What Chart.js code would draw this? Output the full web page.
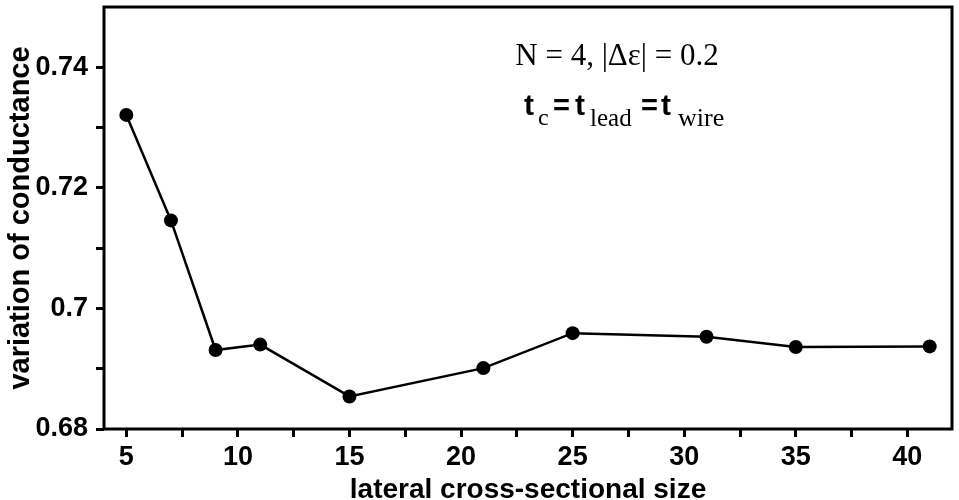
<!DOCTYPE html>
<html lang="en">
<head>
    <meta charset="UTF-8" />
    <title>variation of conductance</title>
    <script src="https://cdn.jsdelivr.net/npm/chart.js"></script>
    <style>
        body {
            margin: 0;
            background: white;
        }
        .wrap {
            width: 959px;
            height: 500px;
        }
    </style>
</head>
<body>
<div class="wrap">
    <canvas id="condChart"></canvas>
</div>
<script>
    // data
    const sizes = [5, 7, 9, 11, 15, 21, 25, 31, 35, 41];
    const conductance = [0.7321, 0.7146, 0.6931, 0.6940, 0.6854, 0.6901, 0.6959, 0.6953, 0.6936, 0.6937];

    const xTickValues = [5, 7.5, 10, 12.5, 15, 17.5, 20, 22.5, 25, 27.5, 30, 32.5, 35, 37.5, 40];
    const xTickLabels = ['5', '', '10', '', '15', '', '20', '', '25', '', '30', '', '35', '', '40'];
    const yTickValues = [0.68, 0.69, 0.70, 0.71, 0.72, 0.73, 0.74];
    const yTickLabels = ['0.68', '', '0.7', '', '0.72', '', '0.74'];

    const sans = "'Liberation Sans', Arial, sans-serif";
    const serif = "'Liberation Serif', 'Times New Roman', serif";

    // frame round the plot + the annotation text
    const framePlugin = {
        id: 'frame',
        afterDraw(chart) {
            const {ctx, chartArea: a} = chart;
            ctx.save();
            ctx.strokeStyle = '#000';
            ctx.lineWidth = 3;
            ctx.strokeRect(a.left, a.top, a.right - a.left, a.bottom - a.top);

            ctx.fillStyle = '#000';
            ctx.textAlign = 'center';
            ctx.textBaseline = 'alphabetic';
            ctx.font = '31px ' + serif;
            ctx.fillText('N = 4, |\u0394\u03b5| = 0.2', 617, 65);

            ctx.textAlign = 'left';
            const parts = [
                ['t', 524, 115, 'bold 30px ' + sans],
                ['c', 538, 125, '24px ' + serif],
                ['=', 553, 115, 'bold 29px ' + sans],
                ['t', 575, 115, 'bold 30px ' + sans],
                ['lead', 590, 126, '25px ' + serif],
                ['=', 641, 115, 'bold 29px ' + sans],
                ['t', 661, 115, 'bold 30px ' + sans],
                ['wire', 678, 126, '26px ' + serif]
            ];
            parts.forEach(([txt, x, y, font]) => {
                ctx.font = font;
                ctx.fillText(txt, x, y);
            });
            ctx.restore();
        }
    };

    const ctx = document.getElementById('condChart').getContext('2d');
    new Chart(ctx, {
        type: 'scatter',
        data: {
            datasets: [{
                data: sizes.map((s, i) => ({x: s, y: conductance[i]})),
                showLine: true,
                borderColor: '#000',
                borderWidth: 2.5,
                backgroundColor: '#000',
                pointRadius: 7,
                pointHoverRadius: 7,
                pointBorderWidth: 0
            }]
        },
        options: {
            responsive: true,
            maintainAspectRatio: false,
            animation: false,
            layout: {
                padding: {top: 2.5, right: 5, left: 0, bottom: 0}
            },
            plugins: {
                legend: {display: false},
                tooltip: {enabled: false}
            },
            scales: {
                x: {
                    type: 'linear',
                    min: 4,
                    max: 42,
                    afterBuildTicks(scale) {
                        scale.ticks = xTickValues.map(v => ({value: v}));
                    },
                    afterFit(scale) {
                        scale.height = 71;
                        scale.paddingLeft = 0;
                        scale.paddingRight = 0;
                    },
                    border: {display: false},
                    grid: {
                        drawOnChartArea: false,
                        drawTicks: true,
                        tickLength: 8,
                        tickWidth: 3,
                        tickColor: '#000'
                    },
                    ticks: {
                        autoSkip: false,
                        maxRotation: 0,
                        padding: 6,
                        color: '#000',
                        font: {family: sans, size: 27, weight: 'bold', lineHeight: 1.1},
                        callback: (v, i) => xTickLabels[i]
                    },
                    title: {
                        display: true,
                        text: 'lateral cross-sectional size',
                        color: '#000',
                        font: {family: sans, size: 28, weight: 'bold', lineHeight: 1},
                        padding: {top: 0, bottom: -4}
                    }
                },
                y: {
                    type: 'linear',
                    min: 0.68,
                    max: 0.75,
                    afterBuildTicks(scale) {
                        scale.ticks = yTickValues.map(v => ({value: v}));
                    },
                    afterFit(scale) {
                        scale.width = 104;
                        scale.paddingTop = 0;
                        scale.paddingBottom = 0;
                    },
                    border: {display: false},
                    grid: {
                        drawOnChartArea: false,
                        drawTicks: true,
                        tickLength: 8,
                        tickWidth: 3,
                        tickColor: '#000'
                    },
                    ticks: {
                        autoSkip: false,
                        padding: 8,
                        color: '#000',
                        font: {family: sans, size: 27, weight: 'bold'},
                        callback: (v, i) => yTickLabels[i]
                    },
                    title: {
                        display: true,
                        text: 'variation of conductance',
                        color: '#000',
                        font: {family: sans, size: 29, weight: 'bold', lineHeight: 1},
                        padding: {top: 6, bottom: 0}
                    }
                }
            }
        },
        plugins: [framePlugin]
    });
</script>
</body>
</html>
